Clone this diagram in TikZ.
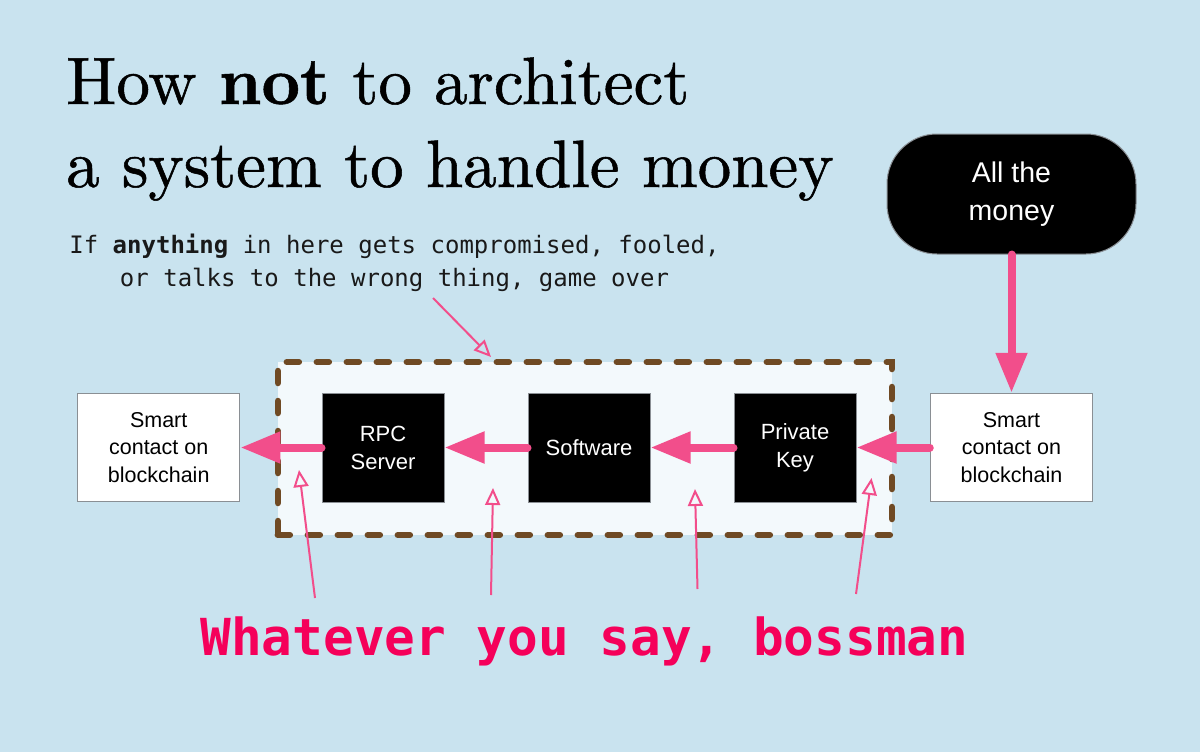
\documentclass[tikz,border=0pt]{standalone}
\usepackage{fontspec}
\newfontfamily\sansf{Liberation Sans}
\newfontfamily\monof{DejaVu Sans Mono}
\newfontfamily\titlef{lmroman10-regular.otf}[BoldFont=lmroman10-bold.otf, FakeBold=0.8]
\usetikzlibrary{arrows.meta}
\definecolor{bg}{HTML}{C9E3EF}
\definecolor{pinkA}{HTML}{F24E8B}
\definecolor{magentaT}{HTML}{F5005A}
\definecolor{brownD}{HTML}{6F4A24}
\definecolor{innerF}{HTML}{F3F9FC}
\definecolor{boxline}{HTML}{8A8F94}
\begin{document}
\begin{tikzpicture}[x=1pt,y=-1pt,
  blackbox/.style={draw=boxline, line width=1pt, fill=black, text=white,
    font=\sansf\fontsize{22}{28}\selectfont, align=center,
    minimum width=122pt, minimum height=109pt, inner sep=0pt},
  whitebox/.style={draw=boxline, line width=1.5pt, fill=white, text=black,
    font=\sansf\fontsize{21.5}{27.5}\selectfont, align=center,
    minimum width=162pt, minimum height=108pt, inner sep=0pt},
  moneybox/.style={draw=boxline, line width=1pt, fill=black, text=white,
    font=\sansf\fontsize{28.5}{38}\selectfont, align=center, rounded corners=50pt,
    minimum width=249pt, minimum height=120pt, inner sep=0pt},
  zonebox/.style={draw=brownD, fill=innerF, line width=6.5pt, line cap=round,
    dash pattern=on 12pt off 18pt, minimum width=614pt, minimum height=173pt, inner sep=0pt},
  flow/.style={draw=pinkA, line width=8pt, line cap=round,
    -{Triangle[length=40pt,width=30pt]}},
  notearrow/.style={draw=pinkA, line width=2pt,
    -{Triangle[open,length=17pt,width=15pt,line width=2pt]}},
  titlefont/.style={font=\titlef\fontsize{67}{80}\selectfont, text=black, inner sep=0pt},
  subfont/.style={font=\monof\fontsize{24}{30}\selectfont, text=black!90, inner sep=0pt},
  bossfont/.style={font=\monof\bfseries\fontsize{51}{60}\selectfont, text=magentaT, inner sep=0pt}
]
\fill[bg] (0,0) rectangle (1200,752);
\useasboundingbox (0,0) rectangle (1200,752);

% title
\node[titlefont, anchor=base west] (title1) at (66,104) {How \textbf{not} to architect};
\node[titlefont, anchor=base west] (title2) at (66,187) {a system to handle money};

% subtitle
\node[subfont, anchor=base] (sub1) at (394.5,253.3) {If \textbf{anything} in here gets compromised, fooled,};
\node[subfont, anchor=base] (sub2) at (394.5,286) {or talks to the wrong thing, game over};

% zone
\node[zonebox] (zone) at (584.85,448.5) {};

% boxes
\node[whitebox] (left) at (158.7,447.5) {Smart\\contact on\\blockchain};
\node[whitebox] (right) at (1011.5,447.5) {Smart\\contact on\\blockchain};
\node[blackbox] (rpc) at (383,447.5) {RPC\\Server};
\node[blackbox] (sw) at (589,447.5) {Software};
\node[blackbox] (pk) at (795,447.5) {Private\\Key};
\node[moneybox] (money) at (1011.5,194) {All the\\money};

% flow arrows
\draw[flow] (money.south) -- (right.north);
\draw[flow] (right.west) -- (pk.east);
\draw[flow] (pk.west) -- (sw.east);
\draw[flow] (sw.west) -- (rpc.east);
\draw[flow] (rpc.west) -- (left.east);

% annotation arrows
\coordinate (n0) at (433,298);
\coordinate (n0t) at (491,357);
\draw[notearrow] (n0) -- (n0t);

\coordinate (b1) at (315,598);  \coordinate (t1) at (299,470);
\coordinate (b2) at (491,595);  \coordinate (t2) at (493,488);
\coordinate (b3) at (697.5,589);\coordinate (t3) at (695,489);
\coordinate (b4) at (856,594);  \coordinate (t4) at (871.5,478);
\draw[notearrow] (b1) -- (t1);
\draw[notearrow] (b2) -- (t2);
\draw[notearrow] (b3) -- (t3);
\draw[notearrow] (b4) -- (t4);

% bottom text
\node[bossfont, anchor=base] (boss) at (584.4,655) {Whatever you say, bossman};
\end{tikzpicture}
\end{document}
